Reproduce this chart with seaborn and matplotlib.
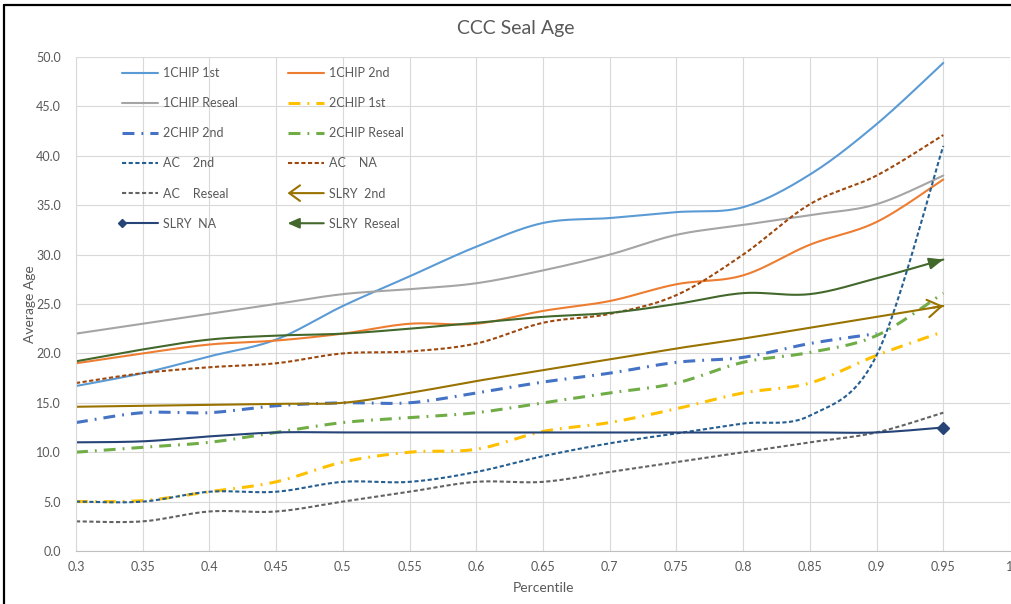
import numpy as np
import pandas as pd
import seaborn as sns
import matplotlib
matplotlib.use("Agg")
from matplotlib import pyplot as plt
from matplotlib.lines import Line2D
from matplotlib.patches import FancyArrowPatch
from matplotlib.legend_handler import HandlerBase

# ---- data ----
percentile = [0.30, 0.35, 0.40, 0.45, 0.50, 0.55, 0.60, 0.65, 0.70, 0.75, 0.80, 0.85, 0.90, 0.95]

chip1_1st = [16.7, 18.0, 19.7, 21.4, 24.8, 27.8, 30.8, 33.2, 33.7, 34.3, 34.8, 38.1, 43.2, 49.4]
chip1_2nd = [19.0, 20.0, 20.9, 21.3, 22.0, 23.0, 23.0, 24.3, 25.3, 27.0, 27.9, 31.0, 33.3, 37.6]
chip1_reseal = [22.0, 23.0, 24.0, 25.0, 26.0, 26.5, 27.1, 28.4, 30.0, 32.0, 33.0, 34.0, 35.1, 38.0]
chip2_1st = [5.0, 5.1, 6.0, 7.0, 9.0, 10.0, 10.3, 12.1, 13.0, 14.4, 16.0, 17.0, 19.8, 22.2]
chip2_2nd = [13.0, 14.0, 14.0, 14.7, 15.0, 15.0, 16.0, 17.1, 18.0, 19.1, 19.6, 21.0, 22.0, np.nan]
chip2_reseal = [10.0, 10.5, 11.0, 12.0, 13.0, 13.5, 14.0, 15.0, 16.0, 17.0, 19.1, 20.1, 21.8, 26.1]
ac_2nd = [5.0, 5.0, 6.0, 6.0, 7.0, 7.0, 8.0, 9.6, 10.9, 11.9, 12.9, 13.7, 19.8, 41.0]
ac_na = [17.0, 18.0, 18.6, 19.0, 20.0, 20.2, 21.0, 23.1, 24.0, 25.9, 30.0, 35.1, 38.0, 42.1]
ac_reseal = [3.0, 3.0, 4.0, 4.0, 5.0, 6.0, 7.0, 7.0, 8.0, 9.0, 10.0, 11.0, 12.0, 14.0]
slry_2nd = [14.6, 14.7, 14.8, 14.9, 15.0, 16.0, 17.2, 18.3, 19.4, 20.5, 21.5, 22.6, 23.7, 24.8]
slry_na = [11.0, 11.1, 11.6, 12.0, 12.0, 12.0, 12.0, 12.0, 12.0, 12.0, 12.0, 12.0, 12.0, 12.5]
slry_reseal = [19.2, 20.4, 21.4, 21.8, 22.0, 22.5, 23.1, 23.7, 24.1, 25.0, 26.1, 26.0, 27.6, 29.5]

series_names = ["1CHIP 1st", "1CHIP 2nd", "1CHIP Reseal", "2CHIP 1st", "2CHIP 2nd", "2CHIP Reseal",
                "AC    2nd", "AC    NA", "AC    Reseal", "SLRY  2nd", "SLRY  NA", "SLRY  Reseal"]
series_values = [chip1_1st, chip1_2nd, chip1_reseal, chip2_1st, chip2_2nd, chip2_reseal,
                 ac_2nd, ac_na, ac_reseal, slry_2nd, slry_na, slry_reseal]

# ---- styles (Excel office palette) ----
DASHDOT = (0, (3.9, 2.3, 0.6, 2.3))
DASH = (0, (2.0, 1.2))
styles = {
    "1CHIP 1st": dict(color="#5B9BD5", lw=1.5, ls="-"),
    "1CHIP 2nd": dict(color="#ED7D31", lw=1.5, ls="-"),
    "1CHIP Reseal": dict(color="#A5A5A5", lw=1.5, ls="-"),
    "2CHIP 1st": dict(color="#FFC000", lw=2.2, ls=DASHDOT),
    "2CHIP 2nd": dict(color="#4472C4", lw=2.2, ls=DASHDOT),
    "2CHIP Reseal": dict(color="#70AD47", lw=2.2, ls=DASHDOT),
    "AC    2nd": dict(color="#255E91", lw=1.5, ls=DASH),
    "AC    NA": dict(color="#9E480E", lw=1.5, ls=DASH),
    "AC    Reseal": dict(color="#636363", lw=1.5, ls=DASH),
    "SLRY  2nd": dict(color="#997300", lw=1.5, ls="-", end="open"),
    "SLRY  NA": dict(color="#264478", lw=1.5, ls="-", end="diamond"),
    "SLRY  Reseal": dict(color="#43682B", lw=1.5, ls="-", end="filled"),
}

TEXT = "#595959"


def smooth_curve(x, y, steps=24):
    # Excel style smoothed line (cardinal/Catmull-Rom bezier through the points)
    x = np.asarray(x, float)
    y = np.asarray(y, float)
    keep = ~np.isnan(y)
    p = np.column_stack([x[keep], y[keep]])
    n = len(p)
    out = [p[0]]
    t = np.linspace(0, 1, steps)[1:, None]
    for i in range(n - 1):
        p0 = p[max(i - 1, 0)]
        p1 = p[i]
        p2 = p[i + 1]
        p3 = p[min(i + 2, n - 1)]
        b1 = p1 + (p2 - p0) / 6.0
        b2 = p2 - (p3 - p1) / 6.0
        seg = ((1 - t) ** 3) * p1 + 3 * ((1 - t) ** 2) * t * b1 + 3 * (1 - t) * t ** 2 * b2 + t ** 3 * p2
        out.extend(seg)
    out = np.array(out)
    return out[:, 0], out[:, 1]


class HandlerEnd(HandlerBase):
    # legend entry with an Excel line end drawn on the left side
    def __init__(self, end):
        super().__init__()
        self.end = end

    def create_artists(self, legend, orig_handle, xdescent, ydescent, width, height, fontsize, trans):
        y = height / 2 - ydescent
        x0, x1 = -xdescent, width - xdescent
        color = orig_handle.get_color()
        lw = orig_handle.get_linewidth()
        if self.end == "diamond":
            line = Line2D([x0, x1], [y, y], color=color, lw=lw)
            mk = Line2D([x0], [y], marker="D", ms=4.5, color=color, ls="none")
            line.set_transform(trans)
            mk.set_transform(trans)
            return [line, mk]
        if self.end == "open":
            style = "->,head_length=0.55,head_width=0.4"
        else:
            style = "-|>,head_length=0.5,head_width=0.22"
        arr = FancyArrowPatch((x1, y), (x0, y), arrowstyle=style, mutation_scale=14,
                              color=color, lw=lw, shrinkA=0, shrinkB=0, transform=trans)
        return [arr]


sns.set_style("white")
plt.rcParams["font.family"] = ["Lato", "DejaVu Sans"]

fig = plt.figure(figsize=(10.11, 6.04), dpi=100)
ax = fig.add_axes([76 / 1011, 1 - 551 / 604, (1010 - 76) / 1011, (551 - 57) / 604])

handles = []
handler_map = {}
for name, vals in zip(series_names, series_values):
    st = styles[name]
    sx, sy = smooth_curve(percentile, vals)
    df = pd.DataFrame({"Percentile": sx, "Average Age": sy})
    sns.lineplot(data=df, x="Percentile", y="Average Age", ax=ax, sort=False, estimator=None,
                 color=st["color"], linewidth=st["lw"], linestyle=st["ls"])
    h = Line2D([], [], color=st["color"], lw=st["lw"], ls=st["ls"])
    end = st.get("end")
    if end == "diamond":
        ax.plot(percentile[-1], vals[-1], marker="D", ms=6, color=st["color"], ls="none")
        handler_map[h] = HandlerEnd("diamond")
    elif end in ("open", "filled"):
        if end == "open":
            style = "->,head_length=0.7,head_width=0.45"
        else:
            style = "-|>,head_length=0.6,head_width=0.25"
        ax.annotate("", xy=(sx[-1], sy[-1]), xytext=(sx[-6], sy[-6]),
                    arrowprops=dict(arrowstyle=style, color=st["color"], lw=st["lw"],
                                    shrinkA=0, shrinkB=0, mutation_scale=14))
        handler_map[h] = HandlerEnd(end)
    handles.append(h)

ax.set_xlim(0.3, 1.0)
ax.set_ylim(0, 50)
ax.set_xticks(np.arange(0.3, 1.0001, 0.05))
ax.set_xticklabels(["0.3", "0.35", "0.4", "0.45", "0.5", "0.55", "0.6", "0.65", "0.7",
                    "0.75", "0.8", "0.85", "0.9", "0.95", "1"])
ax.set_yticks(np.arange(0, 50.01, 5))
ax.set_yticklabels([f"{v:.1f}" for v in np.arange(0, 50.01, 5)])
ax.tick_params(length=0, labelsize=9, colors=TEXT)
ax.tick_params(axis="y", pad=11)
ax.tick_params(axis="x", pad=7)
ax.grid(True, color="#D9D9D9", lw=0.8)
ax.set_axisbelow(True)
for s in ["top", "right"]:
    ax.spines[s].set_visible(False)
ax.spines["left"].set_color("#D9D9D9")
ax.spines["bottom"].set_color("#BFBFBF")
ax.spines["left"].set_linewidth(0.8)
ax.spines["bottom"].set_linewidth(0.8)

ax.set_xlabel("Percentile", fontsize=10, color=TEXT)
ax.set_ylabel("Average Age", fontsize=10, color=TEXT)
ax.xaxis.set_label_coords(0.5, (551 - 588) / 494, transform=ax.transAxes)
ax.yaxis.set_label_coords((30 - 76) / 934, 0.5, transform=ax.transAxes)
ax.xaxis.label.set_va("center")
ax.yaxis.label.set_va("center")

fig.text(0.51, 0.953, "CCC Seal Age", ha="center", va="center", fontsize=14, color=TEXT)

# Excel fills the legend row by row: reorder for matplotlib's column-first filling
order = list(range(0, 12, 2)) + list(range(1, 12, 2))
leg = ax.legend(handles=[handles[i] for i in order], labels=[series_names[i] for i in order],
                handler_map=handler_map, ncol=2,
                loc="upper left", bbox_to_anchor=(122 / 1011, 1 - 67 / 604),
                bbox_transform=fig.transFigure, frameon=False, fontsize=9,
                handlelength=2.9, handletextpad=0.4, columnspacing=3.95,
                labelspacing=1.45, borderpad=0, borderaxespad=0)
for t in leg.get_texts():
    t.set_color(TEXT)

# chart frame edges visible in the screenshot
fig.add_artist(Line2D([4 / 1011, 4 / 1011], [0, 1 - 5 / 604], color="black", lw=1.6))
fig.add_artist(Line2D([4 / 1011, 1], [1 - 5 / 604, 1 - 5 / 604], color="black", lw=1.6))

fig.savefig("out.png", dpi=100)
